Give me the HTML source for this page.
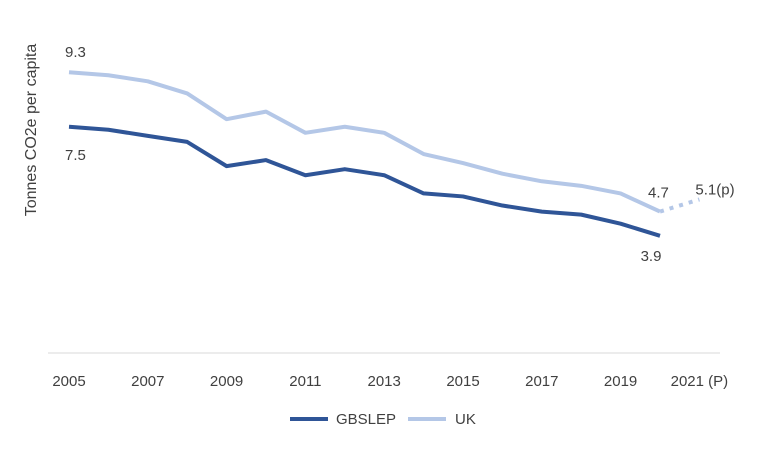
<!DOCTYPE html>
<html><head><meta charset="utf-8">
<style>
body{margin:0;background:#fff;width:761px;height:450px;overflow:hidden;font-family:"Liberation Sans",sans-serif}
svg text{font-family:"Liberation Sans",sans-serif;font-size:15px;fill:#404040}
</style></head><body>
<svg id="chart" width="761" height="450"></svg>
<script>
const years=["2005","2006","2007","2008","2009","2010","2011","2012","2013","2014","2015","2016","2017","2018","2019","2020","2021 (P)"];
const tickLabels=["2005","2007","2009","2011","2013","2015","2017","2019","2021 (P)"];
const gbslep=[7.5,7.4,7.2,7.0,6.2,6.4,5.9,6.1,5.9,5.3,5.2,4.9,4.7,4.6,4.3,3.9];
const uk=[9.3,9.2,9.0,8.6,7.75,8.0,7.3,7.5,7.3,6.6,6.3,5.95,5.7,5.55,5.3,4.7];
const ukProjected=5.1;
const svg=document.getElementById('chart');
const NS='http://www.w3.org/2000/svg';
function x(i){return 69+i*39.4;}
function y(v){return 354-v*30.3;}
function mk(tag,attrs){const e=document.createElementNS(NS,tag);for(const k in attrs)e.setAttribute(k,attrs[k]);svg.appendChild(e);return e;}
const axis=mk('line',{x1:48,x2:720,y1:353,y2:353,stroke:'#d9d9d9','stroke-width':1});


tickLabels.forEach(t=>{const i=years.indexOf(t);const e=mk('text',{x:x(i),y:386,'text-anchor':'middle'});e.textContent=t;

});
const yt=mk('text',{x:0,y:0,transform:'translate(36,130) rotate(-90)','text-anchor':'middle','style':'font-size:16px'});yt.textContent='Tonnes CO2e per capita';


function pts(arr){return arr.map((v,i)=>x(i)+','+y(v)).join(' ');}
const ukLine=mk('polyline',{points:pts(uk),fill:'none',stroke:'#b4c7e7','stroke-width':4,'stroke-linejoin':'round'});


const n=uk.length-1;
const ukDot=mk('line',{x1:x(n),y1:y(uk[n]),x2:x(n+1),y2:y(ukProjected),stroke:'#b4c7e7','stroke-width':4,'stroke-dasharray':'4,6'});


const gLine=mk('polyline',{points:pts(gbslep),fill:'none',stroke:'#2f5597','stroke-width':4,'stroke-linejoin':'round'});


function lab(txt,xx,yy,name){const e=mk('text',{x:xx,y:yy});e.textContent=txt;

}
lab(uk[0].toFixed(1),x(0)-4,y(uk[0])-15,'uk-start-label');
lab(gbslep[0].toFixed(1),x(0)-4,y(gbslep[0])+33,'gbslep-start-label');
lab(uk[n].toFixed(1),x(n)-12,y(uk[n])-14,'uk-end-label');
lab(ukProjected.toFixed(1)+'(p)',x(n+1)-4,y(ukProjected)-5,'uk-projected-label');
lab(gbslep[n].toFixed(1),x(n-1)+20,y(gbslep[n])+25,'gbslep-end-label');
const l1=mk('line',{x1:290,x2:328,y1:419,y2:419,stroke:'#2f5597','stroke-width':4});


lab('GBSLEP',336,424,'legend-gbslep');
const l2=mk('line',{x1:408,x2:446,y1:419,y2:419,stroke:'#b4c7e7','stroke-width':4});


lab('UK',455,424,'legend-uk');
</script>
</body></html>
